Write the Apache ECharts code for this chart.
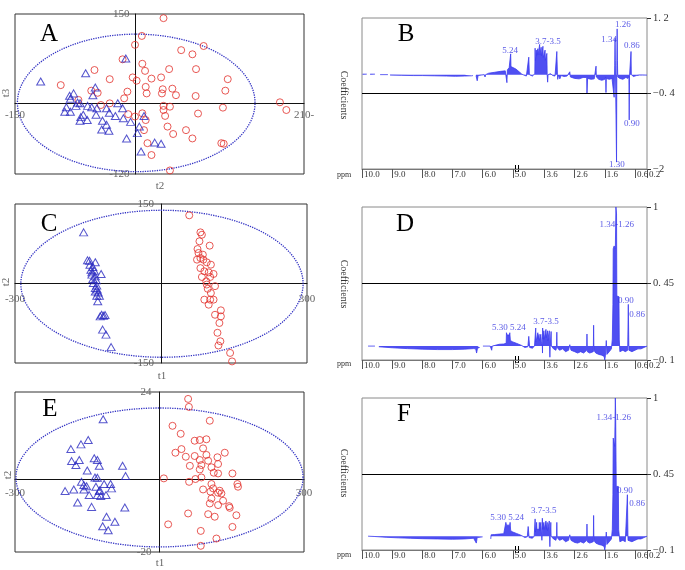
<!DOCTYPE html>
<html><head><meta charset="utf-8">
<script src="https://cdn.jsdelivr.net/npm/echarts@6/dist/echarts.min.js"></script>
<style>html,body{margin:0;padding:0;background:#fff}#c{width:685px;height:570px}</style>
</head><body><div id="c"></div>
<script>
// ---------- Score plots (A, C, E) ----------
const redA = [[35,143],[8,113],[-0.5,98],[85,96],[57,89],[71,82],[-16,73.5],[8.6,66],[-51,55.5],[12,54],[42,57],[75.5,57],[20,41],[32,43],[-32,40],[-3.4,43],[1.5,37.5],[115,40],[-93,30],[12.8,27],[34,23],[46,24],[-55,20.6],[-47,17],[-10,19],[14,16],[33,16],[50.5,13],[112,20.6],[75,11.6],[-71,5],[-14,7.7],[-43,-3.6],[-32,-0.75],[35,-5],[43,-6.4],[35,-12],[109,-8],[180,1],[188,-12],[8.6,-17.6],[78,-18],[-9,-19],[-0.5,-23],[12.8,-29],[37,-22],[40,-40],[10.7,-46],[63,-46],[47,-52.5],[71,-60],[15,-68],[107,-68],[110,-69],[20,-88],[43,-114]];
const blueA = [[-12,75],[-62,50],[-118,36],[-50,26],[-77,16],[-82,12],[-53,13],[-81,7],[-69,-0.75],[-74,-5],[-59.5,-5],[-86,-7.5],[-48,-9],[-36,-9],[-22,-0.75],[-16,-9],[-88,-15],[-81,-15],[-65,-20],[-49,-20],[-25,-22],[-32.5,-16.5],[-68,-24],[-60,-29],[-69,-30],[-41,-30],[-15,-26],[-6,-32],[-36,-37],[10.7,-22],[4.9,-40],[-42,-45],[-33,-47],[-11,-60],[2.4,-51],[24,-67],[32,-69],[7,-82],[-72,0.4],[-54.5,-7.5]];
const redC = [[58,128.6],[81,96.5],[84,92],[79,79.6],[100,71.4],[75,65],[77,57.6],[81,48],[87,45],[74,45],[94,40],[81,29],[102.5,35.5],[89,23],[98,21],[108,18],[84,12.3],[101,12.3],[93,4],[111,-5],[96,-10],[102.5,-18],[89,-30.5],[101,-30.5],[108,-30.5],[98,-40],[123,-50.6],[111,-59],[123,-62],[120,-74.5],[116,-93],[122,-109],[118,-117],[142,-131],[146,-147],[94,-2],[86,54.4]];
const blueC = [[-159,96.5],[-151,43.7],[-147,43],[-135,40],[-146,35.5],[-140,31],[-144,26],[-137,24],[-123,18],[-142,16.7],[-135,13.5],[-140,8.5],[-133,6],[-139,1],[-132,-4],[-135,-8.5],[-131,-11.6],[-129,-17],[-132,-23],[-126.5,-23],[-130,-33.6],[-122,-59],[-118,-61],[-115,-59.4],[-120,-87],[-113,-96.5],[-102.5,-120],[-142,21],[-135,-15],[-125,-62]];
const redE = [[59.4,22.1],[61,19.9],[104.4,16.1],[27,14.7],[44,12.5],[73,10.6],[83.6,10.8],[97.4,11],[90.5,8.5],[45.6,8.3],[33,7.3],[97.4,6.7],[135.5,7.3],[54.6,6.2],[73,6.4],[83.6,5.3],[101,5.1],[120.3,6.05],[63,3.7],[87,3.9],[107.8,3.3],[121.6,4.2],[83.6,2.7],[112.6,1.8],[121.6,1.6],[151.4,1.6],[9,0.25],[61.5,-0.7],[74.6,0.07],[87,0.5],[107.8,-1.3],[111.3,-2.5],[125,-3.15],[90.5,-2.8],[161.7,-1.3],[163,-2.05],[105.7,-3.4],[121.6,-3.7],[128.5,-3.9],[107.8,-5.3],[132,-5.9],[104.4,-6.65],[121.6,-7.1],[144.4,-7.4],[145.8,-7.85],[59.4,-9.4],[101,-9.6],[114.7,-10.3],[159.6,-9.9],[18,-12.4],[151.4,-13.1],[85.7,-14.2],[118.2,-16.3],[85.7,-18.3]];
const blueE = [[-117,16.5],[-148,10.8],[-163,9.6],[-184,8.3],[-166.6,5.3],[-182.5,5.0],[-173.5,3.9],[-135.5,5.8],[-129,5.3],[-125,3.7],[-150,2.4],[-134,0.5],[-129,0.4],[-162,-0.7],[-157,-1.6],[-76.7,3.7],[-70.5,0.9],[-196,-3.25],[-178,-2.8],[-157,-2.8],[-146,-4.35],[-132,-2.05],[-125,-3.25],[-115,-1.3],[-101.6,-1.3],[-99.6,-2.5],[-111,-4.35],[-129,-4.35],[-122,-4.6],[-170,-6.4],[-141,-7.6],[-72,-7.76],[-110,-10.3],[-92.6,-11.7],[-118,-12.9],[-106.5,-14],[-124,-3.0],[-151.4,-1.9]];
// confidence ellipses: [centerX, centerY, semiAxisX, semiAxisY]
const ellipseA = [1, 0, 148, 116];
const ellipseC = [2, -0.5, 290, 138.7];
const ellipseE = [0, 0.5, 298, 19.1];
// score axis ranges (tick labels at both ends)
const rangeA = {x:[-150,210], y:[-120,150]};
const rangeC = {x:[-300,300], y:[-150,150]};
const rangeE = {x:[-300,300], y:[-20,24]};

// ---------- Loadings plots (B, D, F) ----------
const ppmTicks = [10.0, 9.0, 8.0, 7.0, 6.0, 5.0, 3.6, 2.6, 1.6, 0.6, 0.2];
const ppmTickLabels = ['10.0','9.0','8.0','7.0','6.0','5.0','3.6','2.6','1.6','0.6','0.2'];
const breakHi = 4.86, breakLo = 4.51;
// [ppm, coefficient]; [ppm, null] = gap
const specB = [[9.98,0.01],[9.84,0.01],[9.80,null],[9.73,0.01],[9.57,0.01],[9.50,null],[9.40,0.0],[9.14,0.0],[9.10,null],[9.07,-0.01],[8.7,-0.015],[8.3,-0.02],[8.0,-0.02],[7.6,-0.025],[7.2,-0.03],[6.9,-0.035],[6.6,-0.03],[6.36,-0.025],[6.32,-0.02],[6.27,null],[6.22,-0.02],[6.18,-0.13],[6.15,-0.02],[6.05,-0.01],[5.95,0.0],[5.92,-0.05],[5.90,0.0],[5.80,0.03],[5.60,0.05],[5.40,0.07],[5.25,0.08],[5.21,0.06],[5.195,-0.17],[5.18,0.10],[5.12,0.15],[5.08,0.16],[5.07,0.44],[5.06,0.17],[5.0,0.15],[4.90,0.12],[4.50,0.09],[4.42,0.05],[4.35,0.01],[4.28,-0.01],[4.20,-0.03],[4.14,-0.01],[4.12,0.37],[4.10,0.0],[4.05,-0.04],[4.0,-0.03],[3.94,0.0],[3.92,0.02],[3.91,0.56],[3.90,0.30],[3.88,0.38],[3.87,0.52],[3.86,0.40],[3.83,0.42],[3.82,0.55],[3.81,0.42],[3.78,0.44],[3.76,0.64],[3.75,0.42],[3.72,0.40],[3.71,0.58],[3.70,0.40],[3.66,0.38],[3.65,0.60],[3.64,0.36],[3.60,0.38],[3.58,0.52],[3.57,0.30],[3.53,0.28],[3.52,0.45],[3.51,0.0],[3.495,-0.16],[3.48,0.0],[3.40,0.02],[3.32,-0.02],[3.25,-0.03],[3.20,0.0],[3.19,0.49],[3.17,0.0],[3.16,-0.10],[3.14,-0.01],[3.09,-0.09],[3.05,-0.02],[2.95,-0.04],[2.85,-0.03],[2.76,0.06],[2.74,-0.05],[2.60,-0.08],[2.45,-0.09],[2.32,-0.06],[2.27,-0.1],[2.20,-0.06],[2.19,-0.41],[2.17,-0.08],[2.05,-0.1],[1.95,-0.09],[1.90,-0.05],[1.89,0.18],[1.88,-0.05],[1.80,-0.1],[1.70,-0.12],[1.60,-0.1],[1.57,-0.05],[1.56,-0.38],[1.55,-0.08],[1.45,-0.1],[1.36,-0.08],[1.30,-0.1],[1.29,-0.48],[1.27,0.2],[1.26,0.77],[1.25,0.3],[1.22,0.3],[1.21,-1.85],[1.20,0.2],[1.19,0.97],[1.18,0.3],[1.17,-0.05],[1.10,-0.08],[1.0,-0.1],[0.90,-0.06],[0.83,-0.08],[0.80,-0.03],[0.79,-0.96],[0.78,-0.03],[0.74,0.0],[0.73,0.49],[0.72,0.0],[0.65,-0.04],[0.55,-0.02],[0.45,-0.01],[0.35,-0.01],[0.2,-0.01]];
const specD = [[9.80,0],[9.57,0],[9.50,null],[9.44,-0.005],[9.0,-0.012],[8.5,-0.018],[8.0,-0.022],[7.5,-0.025],[7.0,-0.025],[6.6,-0.022],[6.30,-0.018],[6.23,-0.02],[6.20,-0.05],[6.17,-0.015],[6.10,-0.01],[6.05,null],[5.99,0.0],[5.75,0.0],[5.70,-0.03],[5.68,0.0],[5.62,0.01],[5.45,0.013],[5.30,0.015],[5.22,0.02],[5.21,0.096],[5.19,0.08],[5.11,0.08],[5.10,0.096],[5.08,0.04],[5.0,0.03],[4.88,0.02],[4.50,0.015],[4.36,0.005],[4.25,-0.01],[4.15,-0.005],[4.12,0.07],[4.09,-0.01],[4.0,-0.015],[3.93,0.0],[3.90,0.01],[3.89,0.13],[3.88,0.03],[3.83,0.04],[3.82,0.096],[3.81,0.05],[3.78,0.085],[3.77,0.04],[3.73,0.04],[3.72,0.085],[3.70,0.03],[3.67,0.0],[3.665,-0.05],[3.66,0.13],[3.65,0.05],[3.62,0.11],[3.61,0.05],[3.56,0.05],[3.55,0.12],[3.54,0.06],[3.51,0.05],[3.50,0.11],[3.49,0.04],[3.45,0.04],[3.44,0.11],[3.43,0.0],[3.42,-0.08],[3.41,0.0],[3.38,0.105],[3.37,0.0],[3.30,-0.02],[3.22,-0.03],[3.20,-0.01],[3.19,0.10],[3.18,-0.01],[3.10,-0.03],[3.0,-0.02],[2.90,-0.04],[2.80,-0.03],[2.76,0.01],[2.72,-0.03],[2.6,-0.04],[2.5,-0.05],[2.4,-0.04],[2.30,-0.05],[2.20,-0.03],[2.19,0.087],[2.18,-0.04],[2.10,-0.05],[1.98,-0.04],[1.97,0.15],[1.96,-0.03],[1.90,-0.05],[1.80,-0.06],[1.70,-0.065],[1.62,-0.075],[1.60,-0.1],[1.58,-0.07],[1.55,0.04],[1.53,-0.06],[1.45,-0.04],[1.38,-0.02],[1.35,0.05],[1.33,0.30],[1.32,0.70],[1.29,0.72],[1.25,0.70],[1.23,1.0],[1.21,0.95],[1.20,0.36],[1.13,0.355],[1.12,0.05],[1.10,-0.04],[1.0,-0.03],[0.92,-0.04],[0.84,-0.03],[0.82,0.30],[0.80,-0.03],[0.70,-0.04],[0.6,-0.03],[0.5,-0.02],[0.40,-0.02],[0.30,-0.01],[0.2,0.0]];
const specF = [[9.80,0.0],[9.6,-0.002],[9.2,-0.008],[8.8,-0.012],[8.4,-0.015],[8.0,-0.018],[7.5,-0.02],[7.0,-0.022],[6.6,-0.02],[6.30,-0.015],[6.24,-0.015],[6.21,-0.05],[6.18,-0.01],[6.0,-0.005],[5.9,null],[5.73,-0.02],[5.72,0.01],[5.6,0.012],[5.45,0.015],[5.30,0.018],[5.25,0.02],[5.23,0.10],[5.21,0.08],[5.10,0.08],[5.09,0.10],[5.07,0.04],[5.0,0.03],[4.88,0.02],[4.50,0.015],[4.36,0.005],[4.25,-0.01],[4.17,-0.005],[4.14,0.07],[4.11,-0.01],[4.0,-0.015],[3.94,0.0],[3.92,0.01],[3.91,0.125],[3.90,0.03],[3.87,0.04],[3.86,0.10],[3.85,0.05],[3.78,0.05],[3.77,0.10],[3.76,0.04],[3.73,0.04],[3.72,0.10],[3.70,0.03],[3.685,-0.03],[3.675,0.02],[3.67,0.13],[3.66,0.05],[3.62,0.10],[3.61,0.05],[3.56,0.05],[3.55,0.11],[3.54,0.05],[3.52,0.05],[3.51,0.10],[3.50,0.04],[3.45,0.04],[3.44,0.11],[3.43,0.0],[3.42,-0.076],[3.41,0.0],[3.39,0.10],[3.38,0.0],[3.30,-0.02],[3.22,-0.03],[3.20,-0.01],[3.19,0.10],[3.18,-0.01],[3.10,-0.03],[3.0,-0.02],[2.90,-0.04],[2.80,-0.03],[2.76,0.01],[2.72,-0.03],[2.6,-0.045],[2.5,-0.05],[2.4,-0.04],[2.30,-0.05],[2.20,-0.03],[2.19,0.088],[2.18,-0.04],[2.10,-0.05],[1.98,-0.04],[1.97,0.15],[1.96,-0.03],[1.90,-0.05],[1.80,-0.06],[1.70,-0.065],[1.62,-0.075],[1.60,-0.1],[1.58,-0.07],[1.55,0.03],[1.53,-0.06],[1.45,-0.04],[1.38,-0.02],[1.35,0.05],[1.33,0.30],[1.32,0.71],[1.30,0.72],[1.27,0.65],[1.25,1.0],[1.24,0.9],[1.22,0.36],[1.15,0.36],[1.14,0.05],[1.10,-0.04],[1.0,-0.03],[0.92,-0.04],[0.87,-0.03],[0.85,0.30],[0.83,-0.03],[0.70,-0.04],[0.6,-0.03],[0.5,-0.02],[0.40,-0.02],[0.30,-0.01],[0.2,0.0]];
// peak annotations [ppm, coefficient, text]
const annB = [[5.09,0.50,'5.24'],[3.48,0.69,'3.7-3.5'],[1.46,0.744,'1.34'],[1.00,1.05,'1.26'],[0.70,0.61,'0.86'],[0.70,-1.03,'0.90'],[1.20,-1.915,'1.30']];
const annD = [[1.20,0.87,'1.34-1.26'],[0.90,0.33,'0.90'],[0.53,0.227,'0.86'],[5.13,0.134,'5.30 5.24'],[3.55,0.177,'3.7-3.5']];
const annF = [[1.30,0.855,'1.34-1.26'],[0.93,0.33,'0.90'],[0.53,0.237,'0.86'],[5.19,0.135,'5.30 5.24'],[3.62,0.186,'3.7-3.5']];
const yTicksB = [-2, -0.4, 1.2], yLabelsB = ['\u22122', '\u22120. 4', '1. 2'];
const yTicksDF = [-0.1, 0.45, 1], yLabelsDF = ['\u22120. 1', '0. 45', '1'];

// ---------- build ----------
const SERIF = '"Liberation Serif","Times New Roman",serif';
const BLUE = '#3c3cf0';
function ppmToU(p){ return p >= breakHi ? 10 - p : (p <= breakLo ? 10 - p - (breakHi - breakLo) : 10 - breakHi); }
const tickU = ppmTicks.map(ppmToU);

const grids = [
  {left:15, top:14, width:289, height:160},
  {left:362, top:18, width:285, height:151},
  {left:15, top:204, width:292, height:159},
  {left:362, top:207, width:285, height:153},
  {left:15, top:392, width:289, height:160},
  {left:362, top:398, width:285, height:152}
].map((g,i)=>Object.assign(g, {show:true, containLabel:false, outerBoundsMode:'none',
  borderColor: i%2===0 ? '#333' : '#8a8a8a', borderWidth:1, backgroundColor:'transparent'}));

const xAxes = [], yAxes = [], series = [];

function scorePanel(gi, range, red, blue, ell, xm, ym, xFmt){
  const g = grids[gi];
  // axes cross at the origin: shift them from the grid edge to the zero line
  const xOff = -((0 - range.y[0]) / (range.y[1] - range.y[0])) * g.height;
  const yOff = -((0 - range.x[0]) / (range.x[1] - range.x[0])) * g.width;
  xAxes[gi] = {gridIndex:gi, type:'value', min:range.x[0], max:range.x[1], position:'bottom', offset:xOff,
    axisLine:{show:true, onZero:false, lineStyle:{color:'#111', width:1}}, axisTick:{show:false}, splitLine:{show:false},
    axisLabel:{customValues:range.x, formatter:xFmt || (v=>String(v)), color:'#666', fontSize:11, fontFamily:SERIF, margin:xm}};
  yAxes[gi] = {gridIndex:gi, type:'value', min:range.y[0], max:range.y[1], position:'left', offset:yOff,
    axisLine:{show:true, onZero:false, lineStyle:{color:'#111', width:1}}, axisTick:{show:false}, splitLine:{show:false},
    axisLabel:{customValues:range.y, formatter:v=>String(v), color:'#666', fontSize:11, fontFamily:SERIF, margin:ym}};
  series.push({type:'custom', xAxisIndex:gi, yAxisIndex:gi, silent:true, z:1, data:[ell],
    renderItem:function(params, api){
      const cx=api.value(0), cy=api.value(1), a=api.value(2), b=api.value(3), pts=[];
      for(let k=0;k<=240;k++){const t=2*Math.PI*k/240; pts.push(api.coord([cx+a*Math.cos(t), cy+b*Math.sin(t)]));}
      return {type:'polyline', shape:{points:pts}, style:{stroke:'#3434c4', lineWidth:1.3, lineDash:[1.3,1.1], fill:null}};
    }});
  series.push({type:'scatter', xAxisIndex:gi, yAxisIndex:gi, data:red, symbol:'circle', symbolSize:7, z:3,
    itemStyle:{color:'rgba(255,255,255,0)', borderColor:'#e2302a', borderWidth:1}});
  series.push({type:'scatter', xAxisIndex:gi, yAxisIndex:gi, data:blue, symbol:'triangle', symbolSize:[8,7], z:3,
    itemStyle:{color:'rgba(255,255,255,0)', borderColor:'#2b2bc0', borderWidth:1}});
}

function specPanel(gi, spec, ann, yT, yL){
  xAxes[gi] = {gridIndex:gi, type:'value', min:0, max:ppmToU(0.2),
    axisLine:{show:true, onZero:false, lineStyle:{color:'#777'}},
    axisTick:{show:true, customValues:tickU, length:9, lineStyle:{color:'#555'}},
    splitLine:{show:false},
    axisLabel:{customValues:tickU, align:'left', margin:1, padding:[0,0,0,2], fontSize:9, color:'#333', fontFamily:SERIF,
      formatter:v=>{let i=tickU.findIndex(t=>Math.abs(t-v)<1e-6); return i>=0?ppmTickLabels[i]:'';}}};
  yAxes[gi] = {gridIndex:gi, type:'value', position:'right', min:yT[0], max:yT[2],
    axisLine:{show:false, onZero:false}, splitLine:{show:false},
    axisTick:{show:true, customValues:yT, length:4, lineStyle:{color:'#333'}},
    axisLabel:{customValues:yT, margin:6, fontSize:10.5, color:'#333', fontFamily:SERIF,
      formatter:v=>{let i=yT.findIndex(t=>Math.abs(t-v)<1e-6); return i>=0?yL[i]:'';}}};
  series.push({type:'line', xAxisIndex:gi, yAxisIndex:gi, symbol:'none', showSymbol:false, connectNulls:false, z:2,
    data:spec.map(p=>[ppmToU(p[0]), p[1]===null?'-':p[1]]),
    lineStyle:{color:BLUE, width:0.8}, areaStyle:{color:BLUE, opacity:0.9},
    markLine:{silent:true, symbol:'none', label:{show:false}, lineStyle:{color:'#000', width:1, type:'solid'}, data:[{yAxis:yT[1]}]}});
  series.push({type:'scatter', xAxisIndex:gi, yAxisIndex:gi, silent:true, symbol:'circle', symbolSize:1, z:4,
    itemStyle:{color:'rgba(0,0,0,0)'},
    data:ann.map(a=>({value:[ppmToU(a[0]), a[1]], name:a[2]})),
    label:{show:true, position:'inside', formatter:'{b}', color:'#3030e0', fontSize:9, fontFamily:SERIF}});
}

scorePanel(0, rangeA, redA, blueA, ellipseA, 7, 6, v=> v===210 ? '210-' : String(v));
scorePanel(2, rangeC, redC, blueC, ellipseC, 10, 7);
scorePanel(4, rangeE, redE, blueE, ellipseE, 8, 8);
specPanel(1, specB, annB, yTicksB, yLabelsB);
specPanel(3, specD, annD, yTicksDF, yLabelsDF);
specPanel(5, specF, annF, yTicksDF, yLabelsDF);

const chart = echarts.init(document.getElementById('c'), null, {renderer:'canvas'});
chart.setOption({animation:false, backgroundColor:'#fff', grid:grids, xAxis:xAxes, yAxis:yAxes, series:series});

// text decorations
const txt = (x,y,s,opt)=>Object.assign({type:'text', x:x, y:y, silent:true,
  style:Object.assign({text:s, fill:'#000', font:'25px '+SERIF, align:'center', verticalAlign:'middle'}, opt||{})});
const small = {fill:'#666', font:'11px '+SERIF};
const coef = {fill:'#333', font:'10px '+SERIF};
const graphic = [
  txt(49,34,'A'), txt(406,34,'B'), txt(49,224,'C'), txt(405,224,'D'), txt(50,409,'E'), txt(404,414,'F'),
  txt(160,186,'t2',small), txt(162,376,'t1',small), txt(160,563,'t1',small),
  Object.assign(txt(6,93,'t3',small),{rotation:Math.PI/2}),
  Object.assign(txt(6,282,'t2',small),{rotation:Math.PI/2}),
  Object.assign(txt(8,475,'t2',small),{rotation:Math.PI/2}),
  Object.assign(txt(344,95,'Coefficients',coef),{rotation:-Math.PI/2}),
  Object.assign(txt(344,284,'Coefficients',coef),{rotation:-Math.PI/2}),
  Object.assign(txt(344,473,'Coefficients',coef),{rotation:-Math.PI/2}),
  txt(344,175,'ppm',{fill:'#333', font:'8px '+SERIF}),
  txt(344,364,'ppm',{fill:'#333', font:'8px '+SERIF}),
  txt(344,555,'ppm',{fill:'#333', font:'8px '+SERIF})
];
[1,3,5].forEach(gi=>{
  const p = chart.convertToPixel({xAxisIndex:gi, yAxisIndex:gi}, [ppmToU(breakHi), yAxes[gi].min]);
  const cx = Math.round(p[0]), cy = Math.round(p[1]);
  [-1.5,1.5].forEach(d=>graphic.push({type:'line', silent:true, shape:{x1:cx+d, y1:cy-4, x2:cx+d, y2:cy+3}, style:{stroke:'#000', lineWidth:1}}));
});
chart.setOption({graphic:graphic});
</script></body></html>
